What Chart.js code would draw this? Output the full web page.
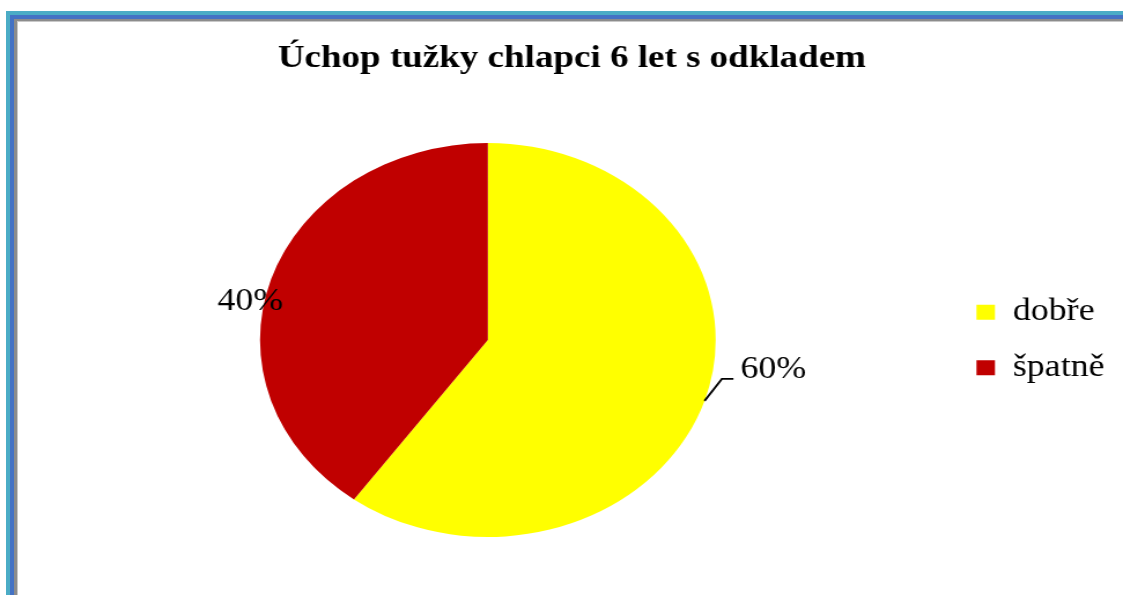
<!DOCTYPE html>
<html lang="cs">
<head>
<meta charset="utf-8">
<title>Úchop tužky chlapci 6 let s odkladem</title>
<script src="https://cdn.jsdelivr.net/npm/chart.js@4/dist/chart.umd.min.js"></script>
<style>
  html, body { margin: 0; padding: 0; background: #ffffff; width: 1123px; height: 595px; overflow: hidden; }
  /* the chart is laid out at 971px and stretched to the full page width */
  #wrap { position: absolute; left: 0; top: 0; width: 971px; height: 595px;
          transform: scaleX(1.15654); transform-origin: 0 0; }
  .edge { position: absolute; right: -40px; bottom: -40px; }
  #e1 { left: 6px;  top: 11px; border-left: 4px solid #4BACC6; border-top: 4px solid #4BACC6; }
  #e2 { left: 10px; top: 15px; border-left: 4px solid #4472C4; border-top: 4px solid #4472C4; }
  #e3 { left: 14px; top: 19px; border-left: 3px solid #8C8C8C; border-top: 2px solid #8C8C8C; }
  #e4 { left: 17px; top: 21px; border-left: 1px solid #C8C8C8; border-top: 1px solid #C8C8C8; }
</style>
</head>
<body>
<div id="wrap"><canvas id="c"></canvas></div>
<div class="edge" id="e1"></div>
<div class="edge" id="e2"></div>
<div class="edge" id="e3"></div>
<div class="edge" id="e4"></div>
<script>
// Data
const titleText = 'Úchop tužky chlapci 6 let s odkladem';
const categories = ['dobře', 'špatně'];
const shares = [60, 40];
const sliceColors = ['#FFFF00', '#C00000'];

const serif = "'Liberation Serif', 'Times New Roman', serif";

// Percentage labels placed around each slice's outer edge
const pieLabels = {
  id: 'pieLabels',
  afterDatasetsDraw(chart, args, opts) {
    const ctx = chart.ctx;
    const meta = chart.getDatasetMeta(0);
    const values = chart.data.datasets[0].data;
    ctx.save();
    ctx.font = opts.size + 'px ' + serif;
    ctx.fillStyle = '#000';
    ctx.strokeStyle = '#000';
    ctx.lineWidth = 1.8;
    meta.data.forEach((arc, i) => {
      const p = arc.getProps(['x', 'y', 'startAngle', 'endAngle', 'outerRadius'], true);
      const mid = (p.startAngle + p.endAngle) / 2;
      const ax = p.x + Math.cos(mid) * p.outerRadius;
      const ay = p.y + Math.sin(mid) * p.outerRadius;
      const text = values[i] + '%';
      const place = opts.place[i];
      if (place.leader) {
        const bx = ax + place.leader[0], by = ay + place.leader[1];
        const cx = bx + place.leader[2];
        ctx.beginPath();
        ctx.moveTo(ax, ay);
        ctx.lineTo(bx, by);
        ctx.lineTo(cx, by);
        ctx.stroke();
        ctx.textAlign = 'left';
        ctx.textBaseline = 'alphabetic';
        ctx.fillText(text, cx + place.gap, by + place.base);
      } else {
        ctx.textAlign = 'center';
        ctx.textBaseline = 'alphabetic';
        ctx.fillText(text, ax + place.dx, ay + place.dy);
      }
    });
    ctx.restore();
  }
};

new Chart(document.getElementById('c'), {
  type: 'pie',
  data: {
    labels: categories,
    datasets: [{
      data: shares,
      backgroundColor: sliceColors,
      borderWidth: 0,
      hoverOffset: 0,
      offset: 0
    }]
  },
  options: {
    responsive: true,
    maintainAspectRatio: false,
    animation: false,
    events: [],
    layout: { padding: { left: 24, right: 6, top: 0, bottom: 58 } },
    plugins: {
      title: {
        display: true,
        text: titleText,
        color: '#000',
        font: { family: serif, size: 32, weight: 'bold', lineHeight: 1.2 },
        padding: { top: 39.3, bottom: 65.3 }
      },
      legend: {
        position: 'right',
        align: 'center',
        fullSize: false,
        labels: {
          color: '#000',
          font: { family: serif, size: 31 },
          boxWidth: 16,
          boxHeight: 15,
          padding: 24.7
        }
      },
      tooltip: { enabled: false },
      pieLabels: {
        size: 31,
        place: [
          { leader: [15, -22, 10], gap: 6, base: -1 },
          { dx: -18, dy: 31 }
        ]
      }
    }
  },
  plugins: [pieLabels]
});
</script>
</body>
</html>
